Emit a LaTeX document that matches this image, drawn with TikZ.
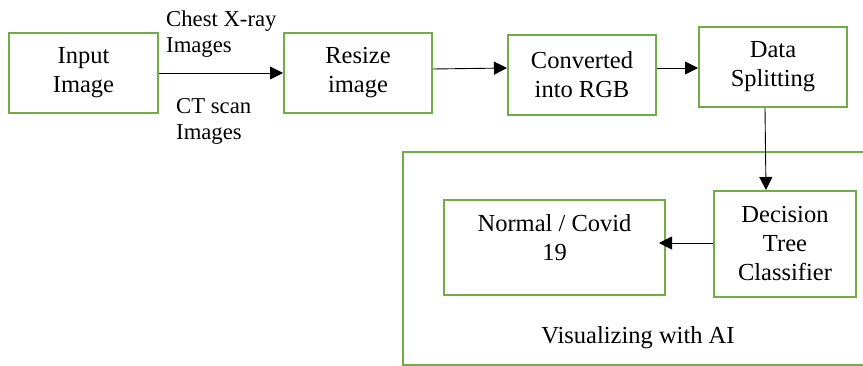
\documentclass[tikz,border=0pt]{standalone}
\usepackage{fontspec}
\setmainfont{Liberation Serif}
\usetikzlibrary{arrows.meta}
\definecolor{boxgreen}{HTML}{70AD47}
\begin{document}
\begin{tikzpicture}[x=1pt,y=-1pt,
  stagebox/.style={draw=boxgreen,line width=2pt,inner sep=0pt,align=center,
    font=\fontsize{24.5}{29}\selectfont},
  edgelabel/.style={inner sep=0pt,align=left,anchor=west,font=\fontsize{22.7}{26}\selectfont},
  flow/.style={-{Triangle[length=13pt,width=13pt]},line width=0.9pt}]
\useasboundingbox (0,0) rectangle (863,366);
\node[stagebox,minimum width=149pt,minimum height=80pt] (input) at (83.5,73) {Input\\Image};
\node[stagebox,minimum width=148pt,minimum height=80pt] (resize) at (358,73) {Resize\\image};
\node[stagebox,minimum width=148pt,minimum height=80pt] (rgb) at (582,75) {Converted\\into RGB};
\node[stagebox,minimum width=148pt,minimum height=80pt] (split) at (773,67) {Data\\Splitting};
\draw[draw=boxgreen,line width=2pt] (403,152) rectangle (875,365);
\node[stagebox,minimum width=142pt,minimum height=106pt] (tree) at (785,244) {Decision\\Tree\\Classifier};
\node[stagebox,minimum width=221pt,minimum height=95pt] (normal) at (554.5,247.5) {};
\node[inner sep=0pt,align=center,font=\fontsize{24.5}{29}\selectfont] (normaltext) at (554.5,238) {Normal / Covid\\19};
\node[inner sep=0pt,font=\fontsize{24.5}{29}\selectfont] (vis) at (638,338) {Visualizing with AI};
\node[edgelabel] (chest) at (166,34) {Chest X-ray\\Images};
\node[edgelabel] (ct) at (176,121) {CT scan\\Images};
\draw[flow] (input.east) -- (resize.west);
\draw[flow] ([yshift=4pt]resize.east) -- ([yshift=7pt]rgb.west);
\draw[flow] ([yshift=7pt]rgb.east) -- ([yshift=-1pt]split.west);
\draw[flow] ([xshift=-8pt]split.south) -- ([xshift=-19pt]tree.north);
\draw[flow] ([yshift=1pt]tree.west) -- ([xshift=-7pt,yshift=4.5pt]normal.east);
\end{tikzpicture}
\end{document}
